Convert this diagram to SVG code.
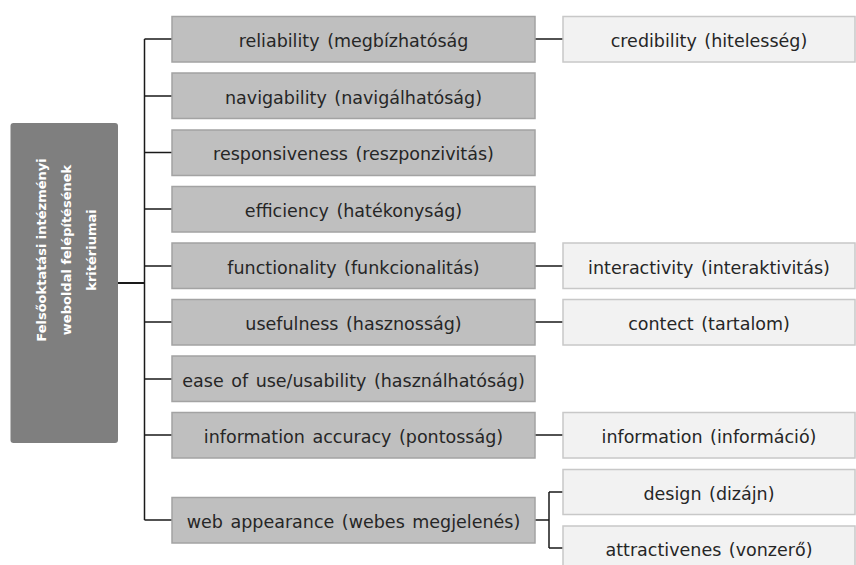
<svg xmlns="http://www.w3.org/2000/svg" width="856" height="565" viewBox="0 0 856 565">
<style>
.m{fill:#bfbfbf;stroke:#a3a3a3;stroke-width:1.5}
.s{fill:#f2f2f2;stroke:#c8c8c8;stroke-width:1.5}
.r{fill:#7f7f7f}
.t{font-family:"DejaVu Sans",Verdana,sans-serif;font-size:17.5px;word-spacing:2px;fill:#262626;text-anchor:middle}
.rt{font-family:"DejaVu Sans",Verdana,sans-serif;font-size:13px;font-weight:bold;fill:#ffffff;text-anchor:middle}
.c{fill:none;stroke:#1a1a1a;stroke-width:1.5}
</style>
<rect width="856" height="565" fill="#ffffff"/>
<g id="connectors">
<path class="c" d="M144.5,39 V520 M144.5,39 H172 M144.5,96 H172 M144.5,152.5 H172 M144.5,209 H172 M144.5,266 H172 M144.5,322 H172 M144.5,379 H172 M144.5,435 H172 M144.5,520 H172"/>
<path class="c" d="M118,283 H144.5" style="stroke-width:2"/>
<path class="c" d="M535,39 H563 M535,266 H563 M535,322 H563 M535,435 H563 M535,520 H549 M549,492 V548 M549,492 H563 M549,548 H563"/>
</g>
<g id="root">
<rect class="r" x="10.5" y="123" width="107.5" height="320" rx="3"/>
<text class="rt" transform="translate(0,250) rotate(-90)"><tspan x="0" y="46">Felsőoktatási intézményi</tspan><tspan x="0" y="71">weboldal felépítésének</tspan><tspan x="0" y="96">kritériumai</tspan></text>
</g>
<g id="n1"><rect class="m" x="172" y="16.5" width="363" height="45.5"/><text class="t" x="353.5" y="47">reliability (megbízhatóság</text></g>
<g id="n2"><rect class="m" x="172" y="73" width="363" height="45.5"/><text class="t" x="353.5" y="103.5">navigability (navigálhatóság)</text></g>
<g id="n3"><rect class="m" x="172" y="130" width="363" height="45.5"/><text class="t" x="353.5" y="160">responsiveness (reszponzivitás)</text></g>
<g id="n4"><rect class="m" x="172" y="186.5" width="363" height="45.5"/><text class="t" x="353.5" y="216.5">efficiency (hatékonyság)</text></g>
<g id="n5"><rect class="m" x="172" y="243" width="363" height="45.5"/><text class="t" x="353.5" y="273.5">functionality (funkcionalitás)</text></g>
<g id="n6"><rect class="m" x="172" y="299.5" width="363" height="45.5"/><text class="t" x="353.5" y="329.5">usefulness (hasznosság)</text></g>
<g id="n7"><rect class="m" x="172" y="356" width="363" height="45.5"/><text class="t" x="353.5" y="386.5">ease of use/usability (használhatóság)</text></g>
<g id="n8"><rect class="m" x="172" y="412.5" width="363" height="45.5"/><text class="t" x="353.5" y="442.5">information accuracy (pontosság)</text></g>
<g id="n9"><rect class="m" x="172" y="497.5" width="363" height="45.5"/><text class="t" x="353.5" y="527.5">web appearance (webes megjelenés)</text></g>
<g id="s1"><rect class="s" x="563" y="16.5" width="292" height="45.5"/><text class="t" x="709" y="47">credibility (hitelesség)</text></g>
<g id="s2"><rect class="s" x="563" y="243" width="292" height="45.5"/><text class="t" x="709" y="273.5">interactivity (interaktivitás)</text></g>
<g id="s3"><rect class="s" x="563" y="299.5" width="292" height="45.5"/><text class="t" x="709" y="329.5">contect (tartalom)</text></g>
<g id="s4"><rect class="s" x="563" y="412.5" width="292" height="45.5"/><text class="t" x="709" y="442.5">information (információ)</text></g>
<g id="s5"><rect class="s" x="563" y="469.5" width="292" height="45"/><text class="t" x="709" y="499.5">design (dizájn)</text></g>
<g id="s6"><rect class="s" x="563" y="526" width="292" height="45"/><text class="t" x="709" y="555.5">attractivenes (vonzerő)</text></g>
</svg>
